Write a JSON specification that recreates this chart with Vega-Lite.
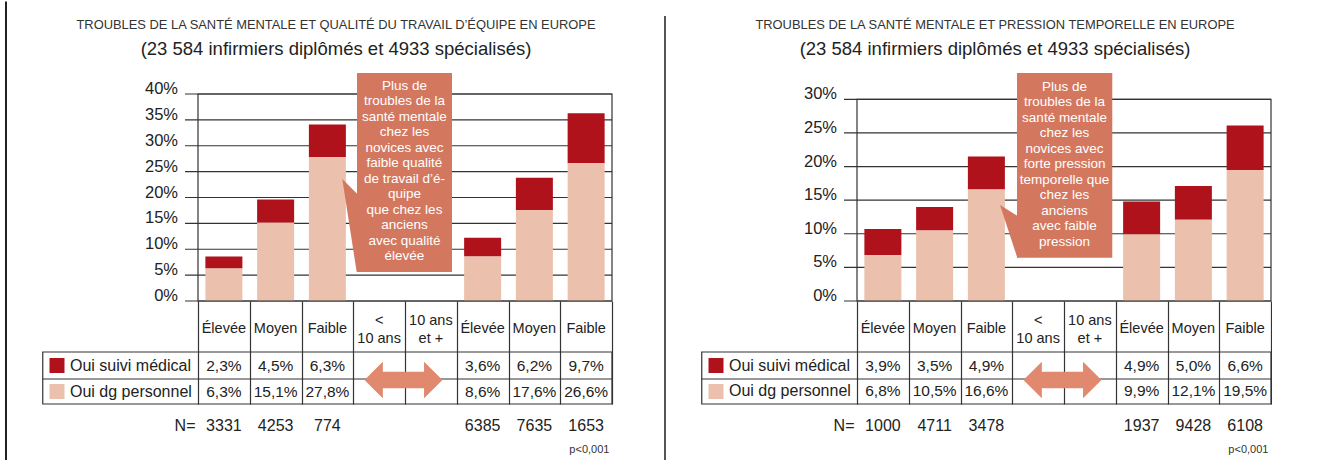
{
  "background": "white",
  "padding": {"left": 5, "top": 0, "right": 0, "bottom": 0},
  "spacing": 245,
  "bounds": "flush",
  "datasets": {
    "gauche": [
      {"col": 0, "qualite": "Élevée", "serie": "Oui suivi médical", "v": 0.023, "n": 3331},
      {"col": 0, "qualite": "Élevée", "serie": "Oui dg personnel", "v": 0.063, "n": 3331},
      {"col": 1, "qualite": "Moyen", "serie": "Oui suivi médical", "v": 0.045, "n": 4253},
      {"col": 1, "qualite": "Moyen", "serie": "Oui dg personnel", "v": 0.151, "n": 4253},
      {"col": 2, "qualite": "Faible", "serie": "Oui suivi médical", "v": 0.063, "n": 774},
      {"col": 2, "qualite": "Faible", "serie": "Oui dg personnel", "v": 0.278, "n": 774},
      {"col": 5, "qualite": "Élevée", "serie": "Oui suivi médical", "v": 0.036, "n": 6385},
      {"col": 5, "qualite": "Élevée", "serie": "Oui dg personnel", "v": 0.086, "n": 6385},
      {"col": 6, "qualite": "Moyen", "serie": "Oui suivi médical", "v": 0.062, "n": 7635},
      {"col": 6, "qualite": "Moyen", "serie": "Oui dg personnel", "v": 0.176, "n": 7635},
      {"col": 7, "qualite": "Faible", "serie": "Oui suivi médical", "v": 0.097, "n": 1653},
      {"col": 7, "qualite": "Faible", "serie": "Oui dg personnel", "v": 0.266, "n": 1653}
    ],
    "droite": [
      {"col": 0, "qualite": "Élevée", "serie": "Oui suivi médical", "v": 0.039, "n": 1000},
      {"col": 0, "qualite": "Élevée", "serie": "Oui dg personnel", "v": 0.068, "n": 1000},
      {"col": 1, "qualite": "Moyen", "serie": "Oui suivi médical", "v": 0.035, "n": 4711},
      {"col": 1, "qualite": "Moyen", "serie": "Oui dg personnel", "v": 0.105, "n": 4711},
      {"col": 2, "qualite": "Faible", "serie": "Oui suivi médical", "v": 0.049, "n": 3478},
      {"col": 2, "qualite": "Faible", "serie": "Oui dg personnel", "v": 0.166, "n": 3478},
      {"col": 5, "qualite": "Élevée", "serie": "Oui suivi médical", "v": 0.049, "n": 1937},
      {"col": 5, "qualite": "Élevée", "serie": "Oui dg personnel", "v": 0.099, "n": 1937},
      {"col": 6, "qualite": "Moyen", "serie": "Oui suivi médical", "v": 0.050, "n": 9428},
      {"col": 6, "qualite": "Moyen", "serie": "Oui dg personnel", "v": 0.121, "n": 9428},
      {"col": 7, "qualite": "Faible", "serie": "Oui suivi médical", "v": 0.066, "n": 6108},
      {"col": 7, "qualite": "Faible", "serie": "Oui dg personnel", "v": 0.195, "n": 6108}
    ],
    "entetes": [
      {"col": 0, "lab": "Élevée", "lignes": 1},
      {"col": 1, "lab": "Moyen", "lignes": 1},
      {"col": 2, "lab": "Faible", "lignes": 1},
      {"col": 3, "lab": "<\n10 ans", "lignes": 2},
      {"col": 4, "lab": "10 ans\net +", "lignes": 2},
      {"col": 5, "lab": "Élevée", "lignes": 1},
      {"col": 6, "lab": "Moyen", "lignes": 1},
      {"col": 7, "lab": "Faible", "lignes": 1}
    ],
    "graduations_gauche": [{"g": 0}, {"g": 0.05}, {"g": 0.1}, {"g": 0.15}, {"g": 0.2}, {"g": 0.25}, {"g": 0.3}, {"g": 0.35}, {"g": 0.4}],
    "graduations_droite": [{"g": 0}, {"g": 0.05}, {"g": 0.1}, {"g": 0.15}, {"g": 0.2}, {"g": 0.25}, {"g": 0.3}]
  },
  "hconcat": [
    {
      "width": 414,
      "height": 207,
      "layer": [
        {
          "data": {"name": "graduations_gauche"},
          "mark": {"type": "rule", "stroke": "#333", "strokeWidth": 1.2},
          "encoding": {
            "x": {"datum": -0.7512, "scale": {"domain": [-0.5, 7.5], "nice": false, "zero": false, "padding": 0},
              "axis": {"values": [-0.5, 0.5, 1.5, 2.5, 3.5, 4.5, 5.5, 6.5, 7.5], "ticks": true, "tickSize": 103, "tickColor": "#333", "tickWidth": 1.2, "labels": false, "domain": false, "grid": false, "title": null}},
            "x2": {"datum": 7.5},
            "y": {"field": "g", "type": "quantitative", "scale": {"domain": [0, 0.4], "nice": false, "padding": 0}, "axis": null}
          }
        },
        {
          "data": {"name": "graduations_gauche"},
          "mark": {"type": "text", "fontSize": 16.5, "align": "right", "baseline": "alphabetic", "color": "#222"},
          "encoding": {
            "x": {"datum": -0.8865},
            "y": {"field": "g", "type": "quantitative", "axis": null},
            "text": {"field": "g", "type": "quantitative", "format": ".0%"}
          }
        },
        {
          "data": {"name": "gauche"},
          "mark": {"type": "bar", "width": 37},
          "encoding": {
            "x": {"field": "col", "type": "quantitative"},
            "y": {"field": "v", "type": "quantitative", "stack": "zero", "axis": null},
            "color": {"field": "serie", "type": "nominal", "scale": {"domain": ["Oui suivi médical", "Oui dg personnel"], "range": ["#B0121B", "#EBC1AD"]}, "legend": null},
            "order": {"field": "serie", "sort": "ascending"}
          }
        },
        {"data": {"values": [{}]}, "mark": {"type": "rule", "stroke": "#222", "strokeWidth": 2}, "encoding": {"x": {"datum": -4.2101}, "y": {"datum": 0.5787, "axis": null}, "y2": {"datum": -0.3072}}},
        {"data": {"values": [{}]}, "mark": {"type": "rect", "filled": false, "stroke": "#333", "strokeWidth": 1.2}, "encoding": {"x": {"datum": -0.5}, "x2": {"datum": 7.5}, "y": {"datum": 0, "axis": null}, "y2": {"datum": 0.4}}},
        {"data": {"values": [{}]}, "mark": {"type": "rect", "filled": false, "stroke": "#333", "strokeWidth": 1.2}, "encoding": {"x": {"datum": -3.5}, "x2": {"datum": 7.5}, "y": {"datum": -0.09855, "axis": null}, "y2": {"datum": -0.19903}}},
        {"data": {"values": [{}]}, "mark": {"type": "rule", "stroke": "#333", "strokeWidth": 1.2}, "encoding": {"x": {"datum": -3.5}, "x2": {"datum": 7.5}, "y": {"datum": -0.15072, "axis": null}}},
        {"data": {"name": "entetes"}, "transform": [{"filter": "datum.lignes === 1"}], "mark": {"type": "text", "fontSize": 14.5, "baseline": "middle", "align": "center", "color": "#222"}, "encoding": {"x": {"field": "col", "type": "quantitative"}, "y": {"datum": -0.05411, "axis": null}, "text": {"field": "lab"}}},
        {"data": {"name": "entetes"}, "transform": [{"filter": "datum.lignes === 2"}], "mark": {"type": "text", "fontSize": 14.5, "lineBreak": "\n", "lineHeight": 17.5, "baseline": "middle", "align": "center", "color": "#222"}, "encoding": {"x": {"field": "col", "type": "quantitative"}, "y": {"datum": -0.03865, "axis": null}, "text": {"field": "lab"}}},
        {"data": {"name": "gauche"}, "transform": [{"filter": "datum.serie === 'Oui suivi médical'"}], "mark": {"type": "text", "fontSize": 15.5, "baseline": "middle", "align": "center", "color": "#222"}, "encoding": {"x": {"field": "col", "type": "quantitative"}, "y": {"datum": -0.12464, "axis": null}, "text": {"field": "v", "type": "quantitative", "format": ".1%"}}},
        {"data": {"name": "gauche"}, "transform": [{"filter": "datum.serie === 'Oui dg personnel'"}], "mark": {"type": "text", "fontSize": 15.5, "baseline": "middle", "align": "center", "color": "#222"}, "encoding": {"x": {"field": "col", "type": "quantitative"}, "y": {"datum": -0.17488, "axis": null}, "text": {"field": "v", "type": "quantitative", "format": ".1%"}}},
        {"data": {"name": "gauche"}, "transform": [{"filter": "datum.serie === 'Oui suivi médical'"}], "mark": {"type": "text", "fontSize": 16, "baseline": "middle", "align": "center", "color": "#222"}, "encoding": {"x": {"field": "col", "type": "quantitative"}, "y": {"datum": -0.24251, "axis": null}, "text": {"field": "n", "type": "quantitative", "format": "d"}}},
        {"data": {"values": [{}]}, "mark": {"type": "text", "text": "N=", "fontSize": 16, "baseline": "middle", "align": "right", "color": "#222"}, "encoding": {"x": {"datum": -0.548}, "y": {"datum": -0.24251, "axis": null}}},
        {"data": {"values": [{}]}, "mark": {"type": "text", "text": "p<0,001", "fontSize": 11, "baseline": "middle", "align": "right", "color": "#333"}, "encoding": {"x": {"datum": 7.45}, "y": {"datum": -0.28792, "axis": null}}},
        {"data": {"values": [{}]}, "mark": {"type": "point", "shape": "square", "size": 225, "filled": true, "opacity": 1}, "encoding": {"x": {"datum": -3.2246}, "y": {"datum": -0.12464, "axis": null}, "color": {"datum": "Oui suivi médical", "legend": null}}},
        {"data": {"values": [{}]}, "mark": {"type": "point", "shape": "square", "size": 225, "filled": true, "opacity": 1}, "encoding": {"x": {"datum": -3.2246}, "y": {"datum": -0.17488, "axis": null}, "color": {"datum": "Oui dg personnel", "legend": null}}},
        {"data": {"values": [{}]}, "mark": {"type": "text", "text": "Oui suivi médical", "fontSize": 16, "baseline": "middle", "align": "left", "color": "#222"}, "encoding": {"x": {"datum": -2.9734}, "y": {"datum": -0.12464, "axis": null}}},
        {"data": {"values": [{}]}, "mark": {"type": "text", "text": "Oui dg personnel", "fontSize": 16, "baseline": "middle", "align": "left", "color": "#222"}, "encoding": {"x": {"datum": -2.9734}, "y": {"datum": -0.17488, "axis": null}}},
        {"data": {"values": [{}]}, "mark": {"type": "point", "shape": "M -1 0 L -0.528 -0.469 L -0.528 -0.213 L 0.528 -0.213 L 0.528 -0.469 L 1 0 L 0.528 0.469 L 0.528 0.213 L -0.528 0.213 L -0.528 0.469 Z", "size": 6084, "filled": true, "opacity": 1, "fill": "#E0896F", "strokeWidth": 0}, "encoding": {"x": {"datum": 3.47}, "y": {"datum": -0.15266, "axis": null}}},
        {"data": {"values": [{}]}, "mark": {"type": "rect", "fill": "#D4775F"}, "encoding": {"x": {"datum": 2.5725}, "x2": {"datum": 4.4082}, "y": {"datum": 0.44058, "axis": null}, "y2": {"datum": 0.05604}}},
        {"data": {"values": [{}]}, "mark": {"type": "point", "shape": "M 0 0 L 16 15.9 L 16 93 L 14.4 93 Z", "size": 4, "filled": true, "opacity": 1, "fill": "#D4775F", "strokeWidth": 0}, "encoding": {"x": {"datum": 2.2884}, "y": {"datum": 0.2357, "axis": null}}},
        {"data": {"values": [{}]}, "mark": {"type": "text", "text": "Plus de\ntroubles de la\nsanté mentale\nchez les\nnovices avec\nfaible qualité\nde travail d’é-\nquipe\nque chez les\nanciens\navec qualité\nélevée", "lineBreak": "\n", "lineHeight": 15.5, "fontSize": 13.5, "baseline": "middle", "align": "center", "color": "white"}, "encoding": {"x": {"datum": 3.49}, "y": {"datum": 0.41546, "axis": null}}},
        {"data": {"values": [{}]}, "mark": {"type": "text", "text": "TROUBLES DE LA SANTÉ MENTALE ET QUALITÉ DU TRAVAIL D’ÉQUIPE EN EUROPE", "fontSize": 12.9, "baseline": "middle", "align": "center", "color": "#333"}, "encoding": {"x": {"datum": 2.1667}, "y": {"datum": 0.5333, "axis": null}}},
        {"data": {"values": [{}]}, "mark": {"type": "text", "text": "(23 584 infirmiers diplômés et 4933 spécialisés)", "fontSize": 18.5, "baseline": "middle", "align": "center", "color": "#222"}, "encoding": {"x": {"datum": 2.1667}, "y": {"datum": 0.487, "axis": null}}}
      ]
    },
    {
      "width": 414,
      "height": 207,
      "layer": [
        {
          "data": {"name": "graduations_droite"},
          "mark": {"type": "rule", "stroke": "#333", "strokeWidth": 1.2},
          "encoding": {
            "x": {"datum": -0.7512, "scale": {"domain": [-0.5, 7.5], "nice": false, "zero": false, "padding": 0},
              "axis": {"values": [-0.5, 0.5, 1.5, 2.5, 3.5, 4.5, 5.5, 6.5, 7.5], "ticks": true, "tickSize": 103, "tickColor": "#333", "tickWidth": 1.2, "labels": false, "domain": false, "grid": false, "title": null}},
            "x2": {"datum": 7.5},
            "y": {"field": "g", "type": "quantitative", "scale": {"domain": [0, 0.3079], "nice": false, "padding": 0}, "axis": null}
          }
        },
        {
          "data": {"name": "graduations_droite"},
          "mark": {"type": "text", "fontSize": 16.5, "align": "right", "baseline": "alphabetic", "color": "#222"},
          "encoding": {
            "x": {"datum": -0.8865},
            "y": {"field": "g", "type": "quantitative", "axis": null},
            "text": {"field": "g", "type": "quantitative", "format": ".0%"}
          }
        },
        {
          "data": {"name": "droite"},
          "mark": {"type": "bar", "width": 37},
          "encoding": {
            "x": {"field": "col", "type": "quantitative"},
            "y": {"field": "v", "type": "quantitative", "stack": "zero", "axis": null},
            "color": {"field": "serie", "type": "nominal", "scale": {"domain": ["Oui suivi médical", "Oui dg personnel"], "range": ["#B0121B", "#EBC1AD"]}, "legend": null},
            "order": {"field": "serie", "sort": "ascending"}
          }
        },
        {"data": {"values": [{}]}, "mark": {"type": "rule", "stroke": "#555", "strokeWidth": 2}, "encoding": {"x": {"datum": -4.2101}, "y": {"datum": 0.4239, "axis": null}, "y2": {"datum": -0.2365}}},
        {"data": {"values": [{}]}, "mark": {"type": "rect", "filled": false, "stroke": "#333", "strokeWidth": 1.2}, "encoding": {"x": {"datum": -0.5}, "x2": {"datum": 7.5}, "y": {"datum": 0, "axis": null}, "y2": {"datum": 0.3}}},
        {"data": {"values": [{}]}, "mark": {"type": "rect", "filled": false, "stroke": "#333", "strokeWidth": 1.2}, "encoding": {"x": {"datum": -3.5}, "x2": {"datum": 7.5}, "y": {"datum": -0.07586, "axis": null}, "y2": {"datum": -0.15321}}},
        {"data": {"values": [{}]}, "mark": {"type": "rule", "stroke": "#333", "strokeWidth": 1.2}, "encoding": {"x": {"datum": -3.5}, "x2": {"datum": 7.5}, "y": {"datum": -0.11602, "axis": null}}},
        {"data": {"name": "entetes"}, "transform": [{"filter": "datum.lignes === 1"}], "mark": {"type": "text", "fontSize": 14.5, "baseline": "middle", "align": "center", "color": "#222"}, "encoding": {"x": {"field": "col", "type": "quantitative"}, "y": {"datum": -0.04165, "axis": null}, "text": {"field": "lab"}}},
        {"data": {"name": "entetes"}, "transform": [{"filter": "datum.lignes === 2"}], "mark": {"type": "text", "fontSize": 14.5, "lineBreak": "\n", "lineHeight": 17.5, "baseline": "middle", "align": "center", "color": "#222"}, "encoding": {"x": {"field": "col", "type": "quantitative"}, "y": {"datum": -0.02975, "axis": null}, "text": {"field": "lab"}}},
        {"data": {"name": "droite"}, "transform": [{"filter": "datum.serie === 'Oui suivi médical'"}], "mark": {"type": "text", "fontSize": 15.5, "baseline": "middle", "align": "center", "color": "#222"}, "encoding": {"x": {"field": "col", "type": "quantitative"}, "y": {"datum": -0.09594, "axis": null}, "text": {"field": "v", "type": "quantitative", "format": ".1%"}}},
        {"data": {"name": "droite"}, "transform": [{"filter": "datum.serie === 'Oui dg personnel'"}], "mark": {"type": "text", "fontSize": 15.5, "baseline": "middle", "align": "center", "color": "#222"}, "encoding": {"x": {"field": "col", "type": "quantitative"}, "y": {"datum": -0.13461, "axis": null}, "text": {"field": "v", "type": "quantitative", "format": ".1%"}}},
        {"data": {"name": "droite"}, "transform": [{"filter": "datum.serie === 'Oui suivi médical'"}], "mark": {"type": "text", "fontSize": 16, "baseline": "middle", "align": "center", "color": "#222"}, "encoding": {"x": {"field": "col", "type": "quantitative"}, "y": {"datum": -0.18667, "axis": null}, "text": {"field": "n", "type": "quantitative", "format": "d"}}},
        {"data": {"values": [{}]}, "mark": {"type": "text", "text": "N=", "fontSize": 16, "baseline": "middle", "align": "right", "color": "#222"}, "encoding": {"x": {"datum": -0.548}, "y": {"datum": -0.18667, "axis": null}}},
        {"data": {"values": [{}]}, "mark": {"type": "text", "text": "p<0,001", "fontSize": 11, "baseline": "middle", "align": "right", "color": "#333"}, "encoding": {"x": {"datum": 7.45}, "y": {"datum": -0.22163, "axis": null}}},
        {"data": {"values": [{}]}, "mark": {"type": "point", "shape": "square", "size": 225, "filled": true, "opacity": 1}, "encoding": {"x": {"datum": -3.2246}, "y": {"datum": -0.09594, "axis": null}, "color": {"datum": "Oui suivi médical", "legend": null}}},
        {"data": {"values": [{}]}, "mark": {"type": "point", "shape": "square", "size": 225, "filled": true, "opacity": 1}, "encoding": {"x": {"datum": -3.2246}, "y": {"datum": -0.13461, "axis": null}, "color": {"datum": "Oui dg personnel", "legend": null}}},
        {"data": {"values": [{}]}, "mark": {"type": "text", "text": "Oui suivi médical", "fontSize": 16, "baseline": "middle", "align": "left", "color": "#222"}, "encoding": {"x": {"datum": -2.9734}, "y": {"datum": -0.09594, "axis": null}}},
        {"data": {"values": [{}]}, "mark": {"type": "text", "text": "Oui dg personnel", "fontSize": 16, "baseline": "middle", "align": "left", "color": "#222"}, "encoding": {"x": {"datum": -2.9734}, "y": {"datum": -0.13461, "axis": null}}},
        {"data": {"values": [{}]}, "mark": {"type": "point", "shape": "M -1 0 L -0.528 -0.469 L -0.528 -0.213 L 0.528 -0.213 L 0.528 -0.469 L 1 0 L 0.528 0.469 L 0.528 0.213 L -0.528 0.213 L -0.528 0.469 Z", "size": 6084, "filled": true, "opacity": 1, "fill": "#E0896F", "strokeWidth": 0}, "encoding": {"x": {"datum": 3.47}, "y": {"datum": -0.11751, "axis": null}}},
        {"data": {"values": [{}]}, "mark": {"type": "rect", "fill": "#D4775F"}, "encoding": {"x": {"datum": 2.592}, "x2": {"datum": 4.433}, "y": {"datum": 0.33914, "axis": null}, "y2": {"datum": 0.06441}}},
        {"data": {"values": [{}]}, "mark": {"type": "point", "shape": "M 0 0 L 19 11.75 L 19 52.7 L 17.3 52.7 Z", "size": 4, "filled": true, "opacity": 1, "fill": "#D4775F", "strokeWidth": 0}, "encoding": {"x": {"datum": 2.2633}, "y": {"datum": 0.1428, "axis": null}}},
        {"data": {"values": [{}]}, "mark": {"type": "text", "text": "Plus de\ntroubles de la\nsanté mentale\nchez les\nnovices avec\nforte pression\ntemporelle que\nchez les\nanciens\navec faible\npression", "lineBreak": "\n", "lineHeight": 15.5, "fontSize": 13.5, "baseline": "middle", "align": "center", "color": "white"}, "encoding": {"x": {"datum": 3.51}, "y": {"datum": 0.31875, "axis": null}}},
        {"data": {"values": [{}]}, "mark": {"type": "text", "text": "TROUBLES DE LA SANTÉ MENTALE ET PRESSION TEMPORELLE EN EUROPE", "fontSize": 12.9, "baseline": "middle", "align": "center", "color": "#333"}, "encoding": {"x": {"datum": 2.1667}, "y": {"datum": 0.4105, "axis": null}}},
        {"data": {"values": [{}]}, "mark": {"type": "text", "text": "(23 584 infirmiers diplômés et 4933 spécialisés)", "fontSize": 18.5, "baseline": "middle", "align": "center", "color": "#222"}, "encoding": {"x": {"datum": 2.1667}, "y": {"datum": 0.3748, "axis": null}}}
      ]
    }
  ],
  "config": {
    "view": {"stroke": null},
    "font": "Liberation Sans",
    "locale": {"number": {"decimal": ",", "thousands": "\u00a0", "grouping": [3], "currency": ["", "\u00a0€"]}}
  }
}
